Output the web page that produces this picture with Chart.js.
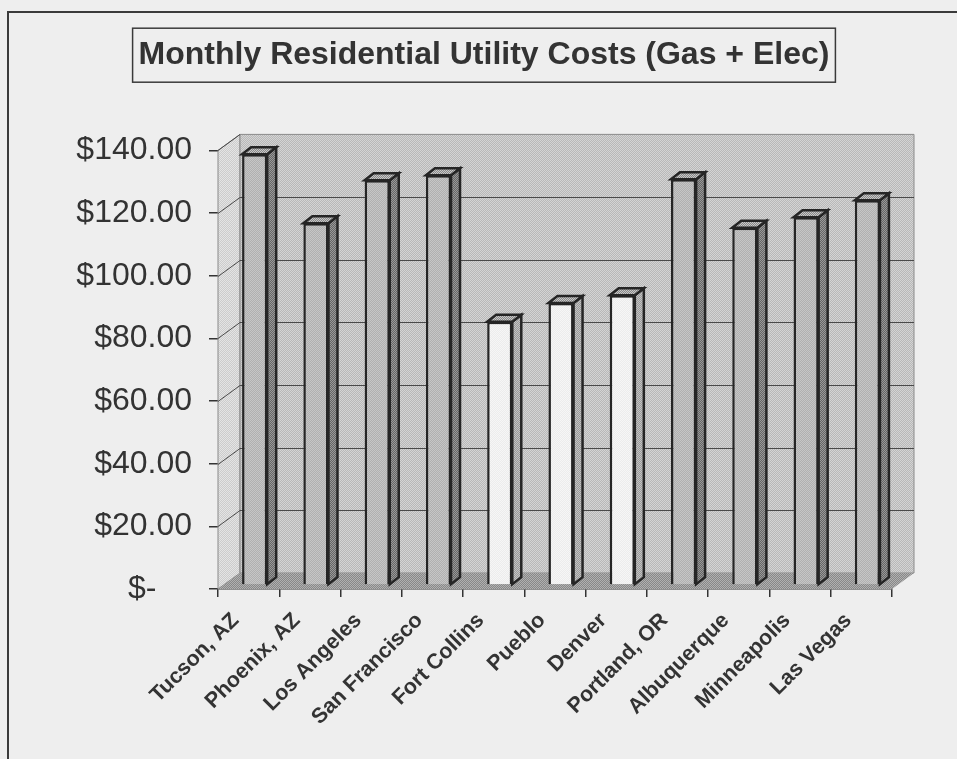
<!DOCTYPE html>
<html>
<head>
<meta charset="utf-8">
<script src="https://cdn.jsdelivr.net/npm/chart.js@4/dist/chart.umd.min.js"></script>
<style>
  body { margin: 0; background: #eeeeee; }
  canvas { display: block; }
</style>
</head>
<body>
<canvas id="grafica" width="957" height="759"></canvas>
<script>
// Datos
const cities = ["Tucson, AZ", "Phoenix, AZ", "Los Angeles", "San Francisco", "Fort Collins",
  "Pueblo", "Denver", "Portland, OR", "Albuquerque", "Minneapolis", "Las Vegas"];
const costs = [137.5, 115.5, 129.2, 130.8, 84, 90, 92.5, 129.5, 114, 117.4, 122.8];
const coloradoCities = ["Fort Collins", "Pueblo", "Denver"];
const yTicks = [0, 20, 40, 60, 80, 100, 120, 140];

/* tramas tipo impresora */
function trama(c1, c2) {
  const p = document.createElement("canvas");
  p.width = 2; p.height = 2;
  const g = p.getContext("2d");
  g.fillStyle = c1; g.fillRect(0, 0, 2, 2);
  g.fillStyle = c2; g.fillRect(0, 0, 1, 1); g.fillRect(1, 1, 1, 1);
  return document.createElement("canvas").getContext("2d").createPattern(p, "repeat");
}

const paredFondo = trama("#b8b8b8", "#d4d4d4");
const paredLado = trama("#cccccc", "#e4e4e4");
const piso = trama("#888888", "#b0b0b0");
const barraOscura = trama("#b0b0b0", "#c6c6c6");
const barraClara = trama("#ececec", "#f6f6f6");
const ladoOscuro = trama("#666666", "#989898");
const ladoClaro = trama("#9a9a9a", "#c4c4c4");
const tapa = trama("#888888", "#c8c8c8");

// profundidad 3D
const DX = 22, DY = -16;
const BX = 6, BY = -4;
const SX = 9, SY = -7;

function poly(ctx, pts, fill, stroke, lw) {
  ctx.beginPath();
  ctx.moveTo(pts[0][0], pts[0][1]);
  for (let i = 1; i < pts.length; i++) ctx.lineTo(pts[i][0], pts[i][1]);
  ctx.closePath();
  if (fill) { ctx.fillStyle = fill; ctx.fill(); }
  if (stroke) { ctx.strokeStyle = stroke; ctx.lineWidth = lw || 1; ctx.stroke(); }
}

const marco = {
  id: "marco",
  beforeDraw(chart) {
    const ctx = chart.ctx;
    ctx.save();
    ctx.fillStyle = "#eeeeee";
    ctx.fillRect(0, 0, chart.width, chart.height);
    ctx.strokeStyle = "#3a3a3a";
    ctx.lineWidth = 2;
    ctx.strokeRect(8, 12, chart.width, chart.height);
    ctx.restore();
  },
  afterDraw(chart) {
    const ctx = chart.ctx;
    const t = chart.titleBlock;
    const f = t.options.font;
    ctx.save();
    ctx.font = "bold " + f.size + "px " + f.family;
    const w = ctx.measureText(t.options.text).width;
    const cx = (t.left + t.right) / 2;
    const cy = t.top + t.options.padding.top + f.size * f.lineHeight / 2;
    ctx.strokeStyle = "#3a3a3a";
    ctx.lineWidth = 1.5;
    ctx.strokeRect(cx - w / 2 - 6, cy - 27, w + 12, 54);
    ctx.restore();
  }
};

const caja3d = {
  id: "caja3d",
  beforeDatasetsDraw(chart) {
    const ctx = chart.ctx;
    const a = chart.chartArea;
    const y = chart.scales.y;
    ctx.save();
    poly(ctx, [[a.left, a.top], [a.left + DX, a.top + DY], [a.left + DX, a.bottom + DY], [a.left, a.bottom]], paredLado, "#8a8a8a", 1);
    poly(ctx, [[a.left + DX, a.top + DY], [a.right + DX, a.top + DY], [a.right + DX, a.bottom + DY], [a.left + DX, a.bottom + DY]], paredFondo, "#8a8a8a", 1);
    poly(ctx, [[a.left, a.bottom], [a.right, a.bottom], [a.right + DX, a.bottom + DY], [a.left + DX, a.bottom + DY]], piso, null);

    ctx.strokeStyle = "#4a4a4a";
    ctx.lineWidth = 1;
    y.ticks.forEach(t => {
      const py = Math.round(y.getPixelForValue(t.value)) + 0.5;
      if (t.value > 0 && t.value < y.max) {
        ctx.beginPath();
        ctx.moveTo(a.left + DX, py + DY);
        ctx.lineTo(a.right + DX, py + DY);
        ctx.stroke();
      }
      if (t.value > 0) {
        ctx.beginPath();
        ctx.moveTo(a.left, py);
        ctx.lineTo(a.left + DX, py + DY);
        ctx.stroke();
      }
    });
    ctx.restore();

    ctx.save();
    ctx.translate(BX, BY);
  },
  afterDatasetsDraw(chart) {
    const ctx = chart.ctx;
    const meta = chart.getDatasetMeta(0);
    meta.data.forEach((el, i) => {
      const p = el.getProps(["x", "y", "base", "width"], true);
      const l = p.x - p.width / 2, r = p.x + p.width / 2;
      const claro = coloradoCities.includes(cities[i]);
      poly(ctx, [[r, p.y], [r + SX, p.y + SY], [r + SX, p.base + SY], [r, p.base]], claro ? ladoClaro : ladoOscuro, "#252525", 2.5);
      poly(ctx, [[l, p.y], [l + SX, p.y + SY], [r + SX, p.y + SY], [r, p.y]], tapa, "#252525", 2.5);
    });
    ctx.restore();
  }
};

const ctx = document.getElementById("grafica");

new Chart(ctx, {
  type: "bar",
  data: {
    labels: cities,
    datasets: [{
      data: costs,
      backgroundColor: cities.map(c => coloradoCities.includes(c) ? barraClara : barraOscura),
      borderColor: "#252525",
      borderWidth: 2.5,
      barPercentage: 0.41,
      categoryPercentage: 1
    }]
  },
  options: {
    responsive: false,
    animation: false,
    layout: { padding: { left: 76, right: 65, top: 0, bottom: 0 } },
    plugins: {
      legend: { display: false },
      tooltip: { enabled: false },
      title: {
        display: true,
        text: "Monthly Residential Utility Costs (Gas + Elec)",
        color: "#333333",
        font: { family: "'Liberation Sans', Arial, sans-serif", size: 32, weight: "bold", lineHeight: 1.2 },
        padding: { top: 36, bottom: 76 }
      }
    },
    scales: {
      x: {
        grid: { offset: true, drawOnChartArea: false, drawTicks: true, tickLength: 8, color: "#333333", lineWidth: 1.5 },
        border: { display: true, color: "#333333", width: 1.5 },
        ticks: {
          autoSkip: false,
          minRotation: 45,
          maxRotation: 45,
          padding: 11,
          labelOffset: -13,
          color: "#333333",
          font: { family: "'Liberation Sans', Arial, sans-serif", size: 21.5, weight: "bold" }
        },
        afterFit: s => { s.height = 170; }
      },
      y: {
        min: 0,
        max: 140,
        afterBuildTicks: s => { s.ticks = yTicks.map(v => ({ value: v })); },
        grid: { drawOnChartArea: false, drawTicks: true, tickLength: 9, color: "#333333", lineWidth: 1.5 },
        border: { display: false },
        ticks: {
          padding: 17,
          color: "#333333",
          font: { family: "'Liberation Sans', Arial, sans-serif", size: 32 },
          callback: v => v === 0 ? "$-    " : "$" + v.toFixed(2)
        },
        afterFit: s => { s.width = 142; }
      }
    }
  },
  plugins: [marco, caja3d]
});
</script>
</body>
</html>
